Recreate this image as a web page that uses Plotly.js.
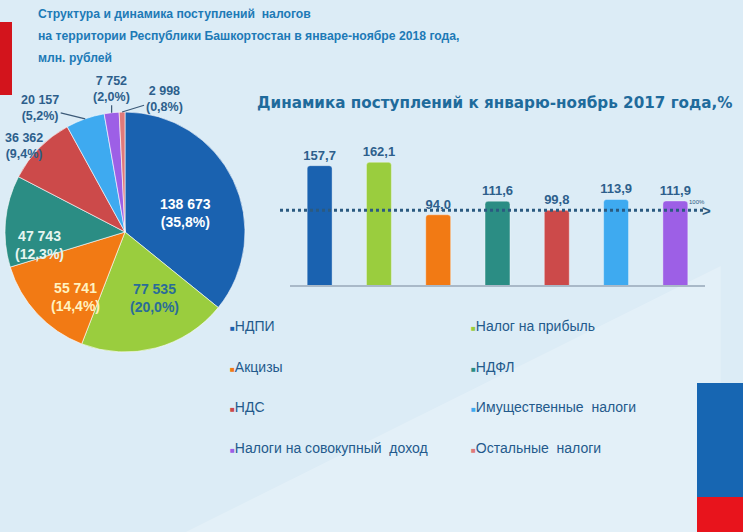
<!DOCTYPE html>
<html><head><meta charset="utf-8">
<script src="https://cdn.plot.ly/plotly-3.0.1.min.js"></script>
<style>html,body{margin:0;padding:0;background:#dcecf6;overflow:hidden}#chart{width:743px;height:532px}</style>
</head><body><div id="chart"></div>
<script>
// ---- data ----
const titleLines = ['Структура и динамика поступлений  налогов', 'на территории Республики Башкортостан в январе-ноябре 2018 года,', 'млн. рублей'];
const barTitle = 'Динамика поступлений к январю-ноябрь 2017 года,%';
const taxNames = ['НДПИ', 'Налог на прибыль', 'Акцизы', 'НДФЛ', 'НДС', 'Имущественные  налоги', 'Налоги на совокупный  доход', 'Остальные  налоги'];
const taxValues2018 = [138673, 77535, 55741, 47743, 36362, 20157, 7752, 2998];
const growthCategories = ['НДПИ', 'Налог на прибыль', 'Акцизы', 'НДФЛ', 'НДС', 'Имущественные  налоги', 'Налоги на совокупный  доход'];
const growthPercent = [157.7, 162.1, 94.0, 111.6, 99.8, 113.9, 111.9];
const baseLevel = 100;

// ---- styles ----
const sliceColors = ['#1a62b0', '#9acd3e', '#f27a14', '#2b8d84', '#cc4a4a', '#3eaaf0', '#9d5fe6', '#e07a7a'];
const barColors = sliceColors.slice(0, 7);
const labelColors = ['#ffffff', '#2a6c98', '#fff2c0', '#e6f5f0', '#2d5f8c', '#2d5f8c', '#2d5f8c', '#2d5f8c'];
const labelBlue = '#2d5f8c';
const FONT = 'Arial, Liberation Sans, sans-serif';

const W = 743, H = 532;
const px = x => x / W, py = y => 1 - y / H;
const pieBox = {x0: 5, x1: 245, y0: 112, y1: 352};
const cx = (pieBox.x0 + pieBox.x1) / 2, cy = (pieBox.y0 + pieBox.y1) / 2, R = (pieBox.x1 - pieBox.x0) / 2;
// label placement per slice: inside labels by radius fraction / angle tweak; outside labels by px offset
const labelPlace = [
  {f: 0.53, d: 8}, {f: 0.6, d: -9.5}, {f: 0.68, d: -9.5}, {f: 0.72, d: -14},
  {out: true, dx: -15, dy: -2, arrow: false}, {out: true, dx: -45, dy: -11, arrow: true},
  {out: true, dx: 0, dy: -24, arrow: true}, {out: true, dx: 42, dy: -13, arrow: true}
];

const total = taxValues2018.reduce((a, b) => a + b, 0);
const fmtInt = v => String(v).replace(/\B(?=(\d{3})+(?!\d))/g, ' ');
const fmtPct = v => (100 * v / total).toFixed(1).replace('.', ',') + '%';

const pie = {
  type: 'pie', labels: taxNames, values: taxValues2018, sort: false,
  direction: 'clockwise', rotation: 0, textinfo: 'none',
  marker: {colors: sliceColors, line: {color: 'rgba(255,255,255,0.6)', width: 1}},
  domain: {x: [px(pieBox.x0), px(pieBox.x1)], y: [py(pieBox.y1), py(pieBox.y0)]},
  showlegend: false, hoverinfo: 'label+value+percent'
};

const bars = {
  type: 'bar', x: growthCategories, y: growthPercent, xaxis: 'x', yaxis: 'y',
  marker: {color: barColors, line: {color: 'rgba(255,255,255,0.35)', width: 1}, cornerradius: 3},
  texttemplate: '%{y:.1f}', textposition: 'outside', cliponaxis: false, constraintext: 'none',
  textfont: {color: labelBlue, size: 13, family: FONT, weight: 'bold'},
  showlegend: false, width: 0.42
};

const annotations = [];
titleLines.forEach((t, i) => annotations.push({
  text: t, xref: 'paper', yref: 'paper', x: px(36), y: py(14 + i * 22), xanchor: 'left', yanchor: 'middle',
  showarrow: false, font: {family: FONT, size: 12.2, color: '#1d7ab6', weight: 'bold'}
}));
annotations.push(
  {text: barTitle, xref: 'paper', yref: 'paper',
   x: px(255), y: py(103), xanchor: 'left', yanchor: 'middle', showarrow: false,
   font: {family: 'DejaVu Sans, Verdana, sans-serif', size: 15.2, color: '#1f6b9c', weight: 'bold'}},
  {text: '&gt;', xref: 'paper', yref: 'y', x: px(706), y: baseLevel, xanchor: 'center', yanchor: 'middle',
   showarrow: false, font: {family: FONT, size: 15, color: '#2b5a80', weight: 'bold'}},
  {text: '100%', xref: 'paper', yref: 'y', x: px(697), y: baseLevel, yshift: 8, xanchor: 'center', yanchor: 'middle',
   showarrow: false, font: {family: FONT, size: 6, color: '#2b5a80'}}
);
// value / share labels of the pie slices, placed from each slice's mid-angle
let cum = 0;
taxValues2018.forEach((v, i) => {
  const mid = (cum + v / 2) / total; cum += v;
  const o = labelPlace[i];
  const text = fmtInt(v) + '<br>(' + fmtPct(v) + ')';
  if (!o.out) {
    const th = 2 * Math.PI * mid + o.d * Math.PI / 180;
    annotations.push({
      text, xref: 'paper', yref: 'paper', x: px(cx + R * o.f * Math.sin(th)), y: py(cy - R * o.f * Math.cos(th)),
      xanchor: 'center', yanchor: 'middle', showarrow: false,
      font: {family: FONT, size: 14, color: labelColors[i], weight: 'bold'}
    });
    return;
  }
  const th = 2 * Math.PI * mid;
  const ex = cx + R * Math.sin(th), ey = cy - R * Math.cos(th);
  const a = {
    text, xref: 'paper', yref: 'paper', x: px(ex), y: py(ey),
    font: {family: FONT, size: 12.5, color: labelColors[i], weight: 'bold'}
  };
  if (o.arrow) Object.assign(a, {showarrow: true, ax: o.dx, ay: o.dy, arrowhead: 0, arrowwidth: 1.2, arrowcolor: '#3c5a78', standoff: 0});
  else Object.assign(a, {showarrow: false, xanchor: 'center', yanchor: 'middle', xshift: o.dx, yshift: -o.dy});
  annotations.push(a);
});
// legend built from the category arrays (two columns)
taxNames.forEach((n, i) => {
  const col = i % 2, row = Math.floor(i / 2);
  annotations.push({
    text: '<span style="font-size:8px;color:' + sliceColors[i] + '">■</span>' + n,
    xref: 'paper', yref: 'paper', x: px(col ? 469 : 228), y: py(326 + row * 40.5),
    xanchor: 'left', yanchor: 'middle', showarrow: false,
    font: {family: FONT, size: 14, color: '#235a8c'}
  });
});

const layout = {
  width: W, height: H, margin: {l: 0, r: 0, t: 0, b: 0},
  paper_bgcolor: '#dcecf6', plot_bgcolor: 'rgba(0,0,0,0)',
  separators: ', ',
  xaxis: {domain: [px(290), px(705)], showline: true, linecolor: '#a9b9c8', linewidth: 1.5,
          showticklabels: false, ticks: '', showgrid: false, zeroline: false, fixedrange: true},
  yaxis: {domain: [py(285), py(140)], range: [3, 191], visible: false, fixedrange: true},
  bargap: 0.58,
  shapes: [
    {type: 'path', xref: 'paper', yref: 'paper', path: 'M 0 0 L 0.25 0 L 0.97 0.5 L 0.97 0 Z',
     fillcolor: 'rgba(255,255,255,0.22)', line: {width: 0}, layer: 'below'},
    {type: 'rect', xref: 'paper', yref: 'paper', x0: 0, x1: px(12), y0: py(95), y1: py(22),
     fillcolor: '#d3141c', line: {width: 0}},
    {type: 'rect', xref: 'paper', yref: 'paper', x0: px(697), x1: 1, y0: py(497), y1: py(383),
     fillcolor: '#1766b2', line: {width: 0}},
    {type: 'rect', xref: 'paper', yref: 'paper', x0: px(697), x1: 1, y0: 0, y1: py(497),
     fillcolor: '#e8141c', line: {width: 0}},
    {type: 'line', xref: 'paper', yref: 'y', x0: px(280), x1: px(703), y0: baseLevel, y1: baseLevel,
     line: {color: '#2b5a80', width: 3, dash: 'dot'}}
  ],
  annotations: annotations
};

Plotly.newPlot('chart', [pie, bars], layout, {displayModeBar: false, staticPlot: true});
</script></body></html>
